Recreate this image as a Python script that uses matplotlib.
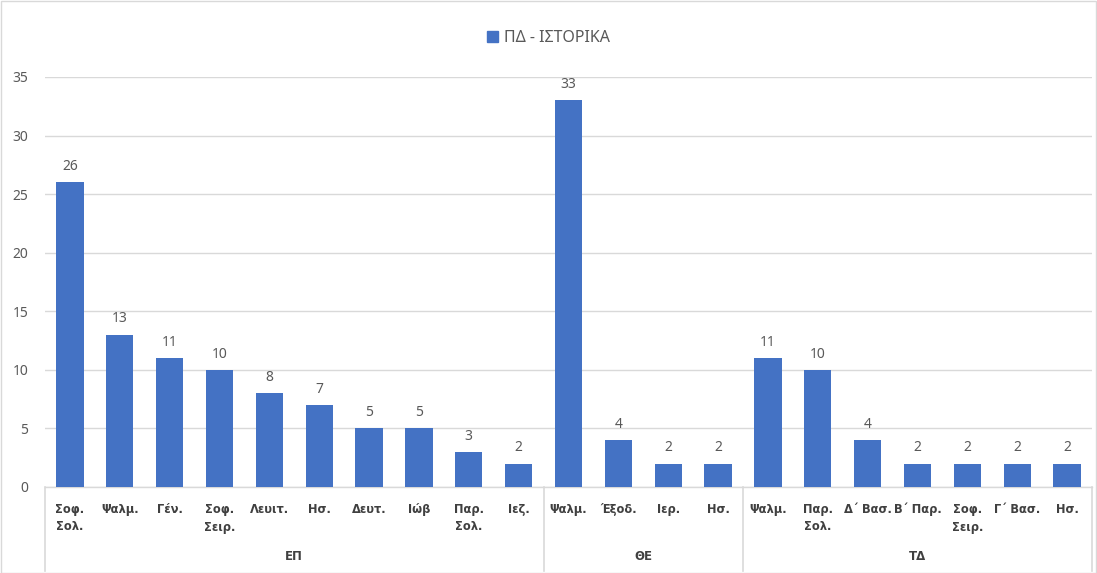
import matplotlib
matplotlib.use("Agg")
import matplotlib.pyplot as plt
from matplotlib.patches import Rectangle
from matplotlib.lines import Line2D

plt.rcParams['font.family'] = ['Noto Sans', 'DejaVu Sans']

categories = ["Σοφ.\nΣολ.", "Ψαλμ.", "Γέν.", "Σοφ.\nΣειρ.", "Λευιτ.", "Ησ.", "Δευτ.", "Ιώβ", "Παρ.\nΣολ.", "Ιεζ.",
              "Ψαλμ.", "Έξοδ.", "Ιερ.", "Ησ.",
              "Ψαλμ.", "Παρ.\nΣολ.", "Δ΄ Βασ.", "Β΄ Παρ.", "Σοφ.\nΣειρ.", "Γ΄ Βασ.", "Ησ."]
values = [26, 13, 11, 10, 8, 7, 5, 5, 3, 2,
          33, 4, 2, 2,
          11, 10, 4, 2, 2, 2, 2]
groups = ["ΕΠ", "ΘΕ", "ΤΔ"]
group_sizes = [10, 4, 7]
series_name = "ΠΔ - ΙΣΤΟΡΙΚΑ"
yticks = [0, 5, 10, 15, 20, 25, 30, 35]

W, H = 1097, 573
fig = plt.figure(figsize=(W / 100, H / 100), dpi=100)
fig.patch.set_facecolor("white")
# border
fig.add_artist(Rectangle((0.5 / W, 0.5 / H), 1 - 1.5 / W, 1 - 1.5 / H, transform=fig.transFigure,
                         fill=False, edgecolor="#d9d9d9", linewidth=1))

x0, x1 = 45, 1092
y0, y1 = 487, 77
ax = fig.add_axes([x0 / W, (H - y0) / H, (x1 - x0) / W, (y0 - y1) / H])
ax_h = y0 - y1

bar_color = "#4472c4"
text_color = "#595959"
n = len(values)
xs = list(range(n))
ax.bar(xs, values, width=0.55, color=bar_color, zorder=3)
ax.set_xlim(-0.5, n - 0.5)
ax.set_ylim(0, 35)
ax.set_yticks(yticks)
ax.set_yticklabels([str(t) for t in yticks], fontsize=10, color=text_color)
ax.tick_params(axis='y', length=0, pad=12)
ax.tick_params(axis='x', length=0, labelbottom=False)
ax.grid(axis='y', color="#d9d9d9", linewidth=1, zorder=0)
for s in ["top", "right", "left"]:
    ax.spines[s].set_visible(False)
ax.spines["bottom"].set_color("#d9d9d9")
ax.spines["bottom"].set_linewidth(1)

for x, v in zip(xs, values):
    ax.annotate(str(v), (x, v), xytext=(0, 6), textcoords="offset points",
                ha="center", va="bottom", fontsize=10, color=text_color)

trans = ax.get_xaxis_transform()
def fy(py):
    return (y0 - py) / ax_h

lab_family = ['DejaVu Sans']
for x, lab in zip(xs, categories):
    ax.text(x, fy(503), lab, transform=trans, ha="center", va="top", fontsize=8.3,
            color="#404040", family=lab_family, fontweight="bold", linespacing=1.45, clip_on=False)

start = 0
bounds = [-0.5]
for g, size in zip(groups, group_sizes):
    center = start + (size - 1) / 2
    ax.text(center, fy(557), g, transform=trans, ha="center", va="center", fontsize=8.5,
            color="#404040", family=lab_family, fontweight="bold", clip_on=False)
    start += size
    bounds.append(start - 0.5)

for b in bounds:
    ax.add_line(Line2D([b, b], [0, fy(571)], transform=trans, color="#d9d9d9", linewidth=1.2, clip_on=False))

# legend
leg = ax.legend([Rectangle((0, 0), 1, 1, color=bar_color)], [series_name], loc="center",
                bbox_to_anchor=(0.5, (H - 38) / H), bbox_transform=fig.transFigure, frameon=False,
                fontsize=11.5, handlelength=0.7, handleheight=0.7, handletextpad=0.4)
for t in leg.get_texts():
    t.set_color(text_color)

fig.savefig("out.png", dpi=100, facecolor="white")
